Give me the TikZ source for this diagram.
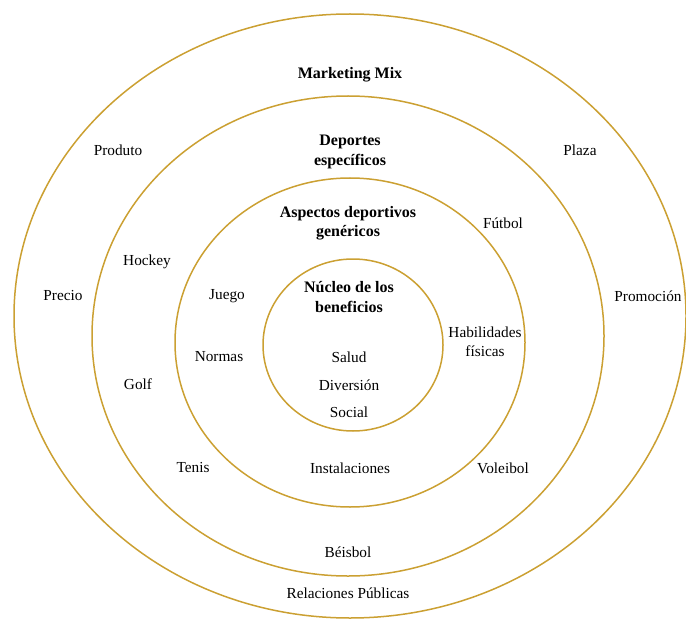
\documentclass[tikz,border=0pt]{standalone}
\usepackage{fontspec}
\setmainfont{Liberation Serif}
\begin{document}
\begin{tikzpicture}[x=1bp,y=-1bp,
  ring/.style={draw=ringgold,line width=1.5bp},
  lbl/.style={font=\fontsize{15.3bp}{19.5bp}\selectfont,align=center,inner sep=0pt},
  head/.style={lbl,font=\fontsize{16bp}{19.5bp}\selectfont\bfseries}]
\definecolor{ringgold}{RGB}{203,160,50}
\useasboundingbox (0,0) rectangle (686,619);
% concentric rings
\draw[ring] (350,316) ellipse [x radius=336,y radius=302];
\draw[ring] (348,336) ellipse [x radius=256,y radius=240];
\draw[ring] (350,342.5) ellipse [x radius=175,y radius=164.5];
\draw[ring] (353,345) ellipse [x radius=90,y radius=86];
% outer ring: marketing mix
\node[head] (mm) at (350,75) {Marketing Mix};
\node[lbl] (produto) at (118,150) {Produto};
\node[lbl] (plaza) at (580,150) {Plaza};
\node[lbl] (precio) at (63,296) {Precio};
\node[lbl] (promo) at (648,296) {Promoción};
\node[lbl] (rp) at (348,593) {Relaciones Públicas};
% second ring: specific sports
\node[head] (dep) at (350,152) {Deportes\\específicos};
\node[lbl] (hockey) at (147,262) {Hockey};
\node[lbl] (golf) at (138,384) {Golf};
\node[lbl] (tenis) at (193,468) {Tenis};
\node[lbl] (futbol) at (503,223) {Fútbol};
\node[lbl] (voleibol) at (503,468) {Voleibol};
\node[lbl] (beisbol) at (348,552) {Béisbol};
% third ring: generic aspects
\node[head] (asp) at (348,223) {Aspectos deportivos\\genéricos};
\node[lbl] (juego) at (227,296) {Juego};
\node[lbl] (normas) at (219,357) {Normas};
\node[lbl] (hab) at (485,342) {Habilidades\\físicas};
\node[lbl] (inst) at (350,468) {Instalaciones};
% core
\node[head] (nucleo) at (349,297) {Núcleo de los\\beneficios};
\node[lbl] (salud) at (349,357) {Salud};
\node[lbl] (div) at (349,385) {Diversión};
\node[lbl] (social) at (349,412) {Social};
\end{tikzpicture}
\end{document}
